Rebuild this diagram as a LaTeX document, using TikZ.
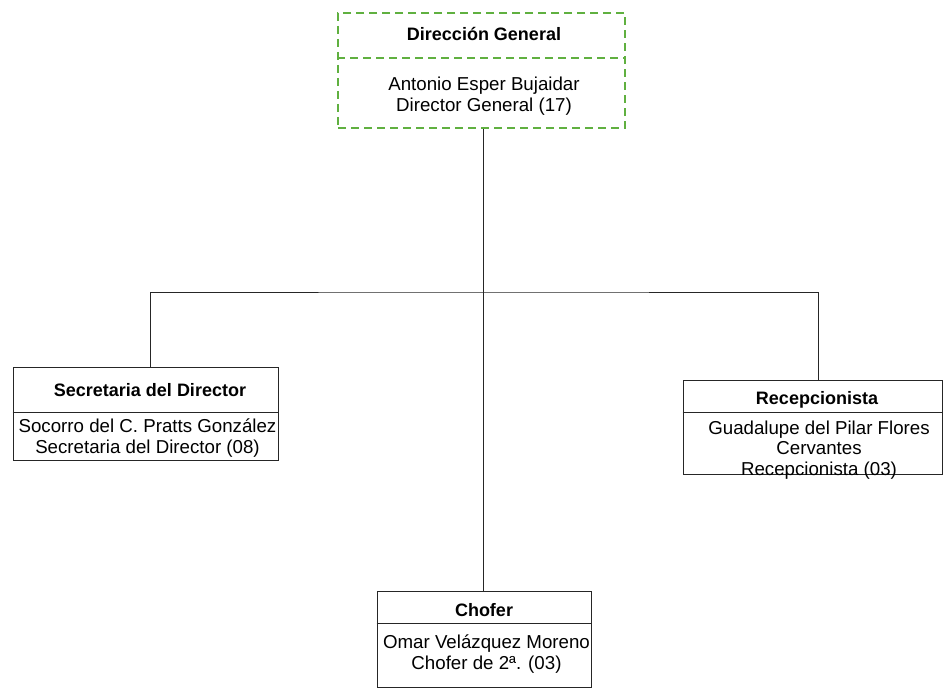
\documentclass[tikz,border=0pt]{standalone}
\usepackage{fontspec}
\setmainfont{Liberation Sans}
\definecolor{dgreen}{RGB}{96,176,64}
\begin{document}
\begin{tikzpicture}[x=1pt,y=-1pt,
  box/.style={draw=black!85,line width=1pt,inner sep=0pt},
  gbox/.style={draw=dgreen,line width=1.4pt,dash pattern=on 8pt off 5pt,inner sep=0pt},
  title/.style={font=\fontsize{18}{20}\selectfont\bfseries,inner sep=0pt},
  body/.style={font=\fontsize{18.7}{20.5}\selectfont,align=center,inner sep=0pt},
  conn/.style={draw=black!85,line width=1pt}]
\useasboundingbox[fill=white] (0,0) rectangle (944,690);
% top
\node[gbox,minimum width=287pt,minimum height=115pt] (top) at (481.5,70.5) {};
\draw[dgreen,line width=1.2pt,dash pattern=on 8pt off 5pt] (top.west |- 0,58) -- (top.east |- 0,58);
\node[title] (topt) at (484,34) {Dirección General};
\node[body] (topb) at (484,96) {Antonio Esper Bujaidar\\Director General (17)};
% secretaria
\node[box,minimum width=265pt,minimum height=93pt] (sec) at (145.5,413.5) {};
\draw[conn] (sec.west |- 0,412) -- (sec.east |- 0,412);
\node[title] (sect) at (150,390) {Secretaria del Director};
\node[body] (secb) at (147.5,438) {Socorro del C. Pratts González\\Secretaria del Director (08)};
% recepcionista
\node[box,minimum width=259pt,minimum height=94pt] (rec) at (812.5,427) {};
\draw[conn] (rec.west |- 0,412) -- (rec.east |- 0,412);
\node[title] (rect) at (817,400) {Recepcionista};
\node[body] (recb) at (819,450) {Guadalupe del Pilar Flores\\Cervantes\\Recepcionista (03)};
% chofer
\node[box,minimum width=214pt,minimum height=96pt] (cho) at (484,639) {};
\draw[conn] (cho.west |- 0,623) -- (cho.east |- 0,623);
\node[title] (chot) at (484,610) {Chofer};
\node[body] (chob) at (486.5,654) {Omar Velázquez Moreno\\Chofer de 2ª. (03)};
% connectors
\coordinate (bar) at (483,292);
\draw[conn] (top.south -| bar) -- (cho.north -| bar);
\draw[conn] (sec.north -| 150,0) |- (bar) -| (rec.north -| 818,0);
\end{tikzpicture}
\end{document}
